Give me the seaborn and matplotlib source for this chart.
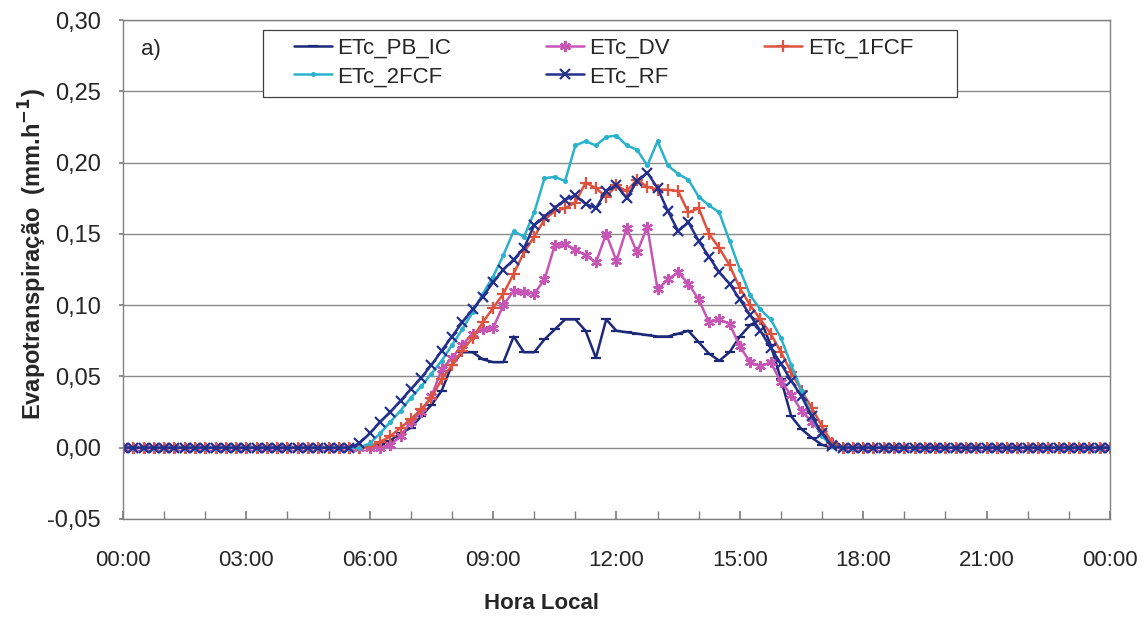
import numpy as np
import pandas as pd
import matplotlib
matplotlib.use("Agg")
import matplotlib.pyplot as plt
import matplotlib.patches as mpatches
import seaborn as sns
from matplotlib.ticker import MultipleLocator, FuncFormatter

# 15-minute time steps (hours), 00:00 .. 24:00
hours = [i * 0.25 for i in range(97)]

night_am = [0.0] * 22   # 00:00 - 05:15
night_pm = [0.0] * 26   # 17:45 - 24:00

pb_ic_day = [0, 0, 0, 0.002, 0.005, 0.010, 0.014, 0.022, 0.030, 0.040, 0.058, 0.067, 0.067,
             0.062, 0.060, 0.060, 0.078, 0.067, 0.067, 0.076, 0.083, 0.090, 0.090, 0.082,
             0.063, 0.090, 0.082, 0.081, 0.080, 0.079, 0.078, 0.078, 0.080, 0.082, 0.074,
             0.066, 0.061, 0.067, 0.078, 0.086, 0.090, 0.072, 0.048, 0.022, 0.013, 0.007,
             0.002, 0, 0]
dv_day = [0, 0, 0, 0, 0.002, 0.008, 0.018, 0.025, 0.036, 0.055, 0.063, 0.072, 0.080, 0.083,
          0.084, 0.100, 0.110, 0.109, 0.108, 0.118, 0.142, 0.143, 0.139, 0.135, 0.130, 0.150,
          0.131, 0.154, 0.137, 0.155, 0.111, 0.118, 0.123, 0.115, 0.104, 0.088, 0.090, 0.087,
          0.071, 0.060, 0.057, 0.060, 0.046, 0.037, 0.026, 0.018, 0.010, 0.003, 0]
fcf1_day = [0, 0, 0.001, 0.004, 0.008, 0.014, 0.020, 0.027, 0.035, 0.048, 0.058, 0.068, 0.077,
            0.088, 0.098, 0.108, 0.122, 0.137, 0.148, 0.160, 0.166, 0.168, 0.172, 0.186, 0.182,
            0.176, 0.184, 0.180, 0.188, 0.183, 0.181, 0.181, 0.180, 0.165, 0.168, 0.150, 0.140,
            0.128, 0.112, 0.100, 0.090, 0.080, 0.067, 0.053, 0.040, 0.028, 0.015, 0.003, 0]
fcf2_day = [0, 0, 0.003, 0.010, 0.018, 0.026, 0.035, 0.043, 0.052, 0.061, 0.072, 0.083, 0.095,
            0.108, 0.120, 0.135, 0.152, 0.148, 0.165, 0.189, 0.190, 0.187, 0.212, 0.215, 0.212,
            0.218, 0.219, 0.212, 0.209, 0.198, 0.215, 0.198, 0.192, 0.188, 0.176, 0.170, 0.165,
            0.145, 0.125, 0.107, 0.097, 0.090, 0.077, 0.058, 0.040, 0.022, 0.008, 0.001, 0]
rf_day = [0, 0.003, 0.010, 0.018, 0.025, 0.033, 0.041, 0.049, 0.058, 0.068, 0.078, 0.088, 0.097,
          0.106, 0.116, 0.125, 0.132, 0.140, 0.156, 0.162, 0.168, 0.174, 0.177, 0.171, 0.168,
          0.180, 0.184, 0.175, 0.187, 0.193, 0.182, 0.166, 0.152, 0.158, 0.145, 0.134, 0.123,
          0.115, 0.104, 0.093, 0.082, 0.070, 0.059, 0.047, 0.036, 0.022, 0.010, 0.001, 0]

etc_pb_ic = night_am + pb_ic_day + night_pm
etc_dv = night_am + dv_day + night_pm
etc_1fcf = night_am + fcf1_day + night_pm
etc_2fcf = night_am + fcf2_day + night_pm
etc_rf = night_am + rf_day + night_pm

series_names = ["ETc_PB_IC", "ETc_DV", "ETc_1FCF", "ETc_2FCF", "ETc_RF"]
series_values = [etc_pb_ic, etc_dv, etc_1fcf, etc_2fcf, etc_rf]

x_tick_hours = [0, 3, 6, 9, 12, 15, 18, 21, 24]
x_tick_labels = ["00:00", "03:00", "06:00", "09:00", "12:00", "15:00", "18:00", "21:00", "00:00"]

df = pd.concat([pd.DataFrame({"hora": hours, "etc": v, "serie": n})
                for n, v in zip(series_names, series_values)], ignore_index=True)

palette = {"ETc_PB_IC": "#1c2878", "ETc_DV": "#c655b6", "ETc_1FCF": "#dc5440",
           "ETc_2FCF": "#2ab2cc", "ETc_RF": "#24318c"}
markers = {"ETc_PB_IC": "_", "ETc_DV": (6, 2, 0), "ETc_1FCF": "+",
           "ETc_2FCF": ".", "ETc_RF": "x"}
msize = {"ETc_PB_IC": 7, "ETc_DV": 8, "ETc_1FCF": 8, "ETc_2FCF": 4, "ETc_RF": 7}

sns.set_theme(style="white")
plt.rcParams["font.family"] = ["Liberation Sans", "DejaVu Sans"]

fig = plt.figure(figsize=(11.45, 6.22), dpi=100)
ax = fig.add_axes([0.1074, 0.1656, 0.862, 0.8022])

for name in series_names:
    sub = df[df["serie"] == name]
    sns.lineplot(data=sub, x="hora", y="etc", ax=ax, color=palette[name],
                 marker=markers[name], markersize=msize[name], markeredgewidth=1.6,
                 markeredgecolor=palette[name], markerfacecolor=palette[name],
                 linewidth=1.8, label=name, legend=False)

ax.set_xlim(0, 24)
ax.set_ylim(-0.05, 0.30)
ax.yaxis.set_major_locator(MultipleLocator(0.05))
ax.yaxis.set_major_formatter(FuncFormatter(lambda v, p: f"{v:.2f}".replace(".", ",").replace("-0,00", "0,00")))
ax.set_xticks(x_tick_hours)
ax.set_xticklabels(x_tick_labels)
ax.xaxis.set_minor_locator(MultipleLocator(1))
ax.tick_params(axis="x", which="both", direction="in", length=6, color="#808080",
               labelsize=16, pad=22, bottom=True)
ax.tick_params(axis="y", which="major", direction="out", length=3, color="#808080",
               labelsize=17, left=True, pad=13)
ax.grid(axis="y", color="#8a8a8a", linewidth=1.0)
ax.set_axisbelow(True)
for s in ax.spines.values():
    s.set_color("#808080")
    s.set_linewidth(1.0)

ax.set_xlabel("Hora Local", fontsize=16, fontweight="bold")
ax.xaxis.set_label_coords(0.4245, -0.148)
ax.set_ylabel("Evapotranspiração  (mm.h$^{\\mathbf{-1}}$)", fontsize=17, fontweight="bold")
ax.yaxis.set_label_coords(-0.075, 0.53)

ax.text(0.018, 0.94, "a)", transform=ax.transAxes, fontsize=16, va="center", ha="left")

# legend frame (box) drawn as a rectangle, legend entries placed inside
frame = mpatches.Rectangle((0.1418, 0.8457), 0.7032, 0.1343, transform=ax.transAxes,
                           facecolor="white", edgecolor="#404040", linewidth=0.9,
                           zorder=4.5, clip_on=False)
ax.add_patch(frame)

handles, labels = ax.get_legend_handles_labels()
hmap = dict(zip(labels, handles))
order = ["ETc_PB_IC", "ETc_2FCF", "ETc_DV", "ETc_RF", "ETc_1FCF"]
leg = ax.legend([hmap[k] for k in order], order, ncol=3, loc="upper left",
                bbox_to_anchor=(0.169, 0.974, 0.636, 0.0), mode="expand",
                fontsize=16, frameon=False, borderaxespad=0, handlelength=1.7,
                handletextpad=0.25, labelspacing=0.35, borderpad=0.2)
leg.set_zorder(5)

fig.savefig("out.png", dpi=100)
